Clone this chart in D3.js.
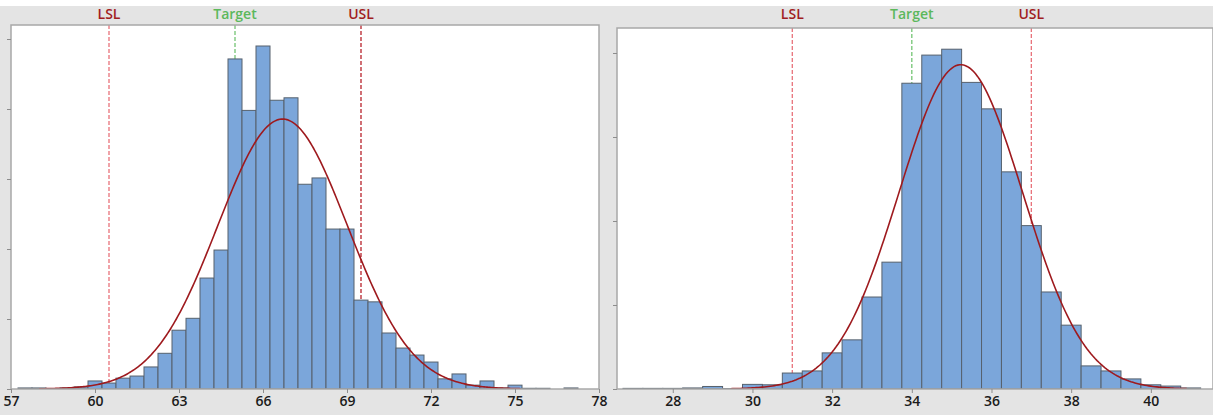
<!DOCTYPE html>
<html>
<head>
<meta charset="utf-8">
<script src="https://cdn.jsdelivr.net/npm/d3@7"></script>
<style>
  body { margin: 0; background: #fff; }
  svg { display: block; font-family: "Open Sans", "DejaVu Sans", sans-serif; }
</style>
</head>
<body>
<div id="chart"></div>
<script>
// left histogram: bin centres (width 0.5) and counts
var leftBins = [57.5, 58, 58.5, 59, 59.5, 60, 60.5, 61, 61.5, 62, 62.5, 63, 63.5, 64, 64.5,
                65, 65.5, 66, 66.5, 67, 67.5, 68, 68.5, 69, 69.5, 70, 70.5, 71, 71.5, 72,
                72.5, 73, 73.5, 74, 74.5, 75, 75.5, 76, 76.5, 77];
var leftCounts = [0.3, 0.3, 0, 0.3, 0.6, 2.3, 1.7, 3.1, 3.7, 6.3, 10.2, 16.8, 20.2, 31.7, 39.7,
                  94.3, 79.6, 98, 82.5, 83.2, 58.5, 60.3, 45.7, 45.7, 25.4, 24.9, 16, 11.7, 9.7, 7.7,
                  2.9, 4.3, 1.1, 2.3, 0.3, 1.1, 0.2, 0.2, 0, 0.3];
var leftTicks = [57, 60, 63, 66, 69, 72, 75, 78];
var leftYTicks = [0, 20, 40, 60, 80, 100];
var leftSpecNames = ["LSL", "Target", "USL"];
var leftSpecValues = [60.5, 65, 69.5];
var leftMean = 66.7, leftSd = 2.31;

// right histogram
var rightBins = [27, 27.5, 28, 28.5, 29, 29.5, 30, 30.5, 31, 31.5, 32, 32.5, 33, 33.5, 34,
                 34.5, 35, 35.5, 36, 36.5, 37, 37.5, 38, 38.5, 39, 39.5, 40, 40.5, 41];
var rightCounts = [0.15, 0.15, 0.15, 0.25, 0.6, 0.1, 1.1, 1.0, 3.8, 4.3, 8.6, 11.7, 21.9, 30.2, 72.8,
                   79.5, 80.9, 73.0, 66.7, 51.7, 38.9, 23.1, 15.2, 5.5, 4.3, 2.4, 1.0, 0.7, 0.25];
var rightTicks = [28, 30, 32, 34, 36, 38, 40];
var rightYTicks = [0, 20, 40, 60, 80];
var rightSpecNames = ["LSL", "Target", "USL"];
var rightSpecValues = [31, 34, 37];
var rightMean = 35.23, rightSd = 1.55;

var binWidth = 0.5,
    W = 1213, H = 415,
    bottom = 389;

var svg = d3.select("#chart").append("svg")
    .attr("width", W)
    .attr("height", H);

svg.append("rect").attr("width", W).attr("height", H).attr("fill", "#e4e4e4");
svg.append("rect").attr("width", W).attr("height", 6).attr("fill", "#fff");

function drawPanel(p) {
    var x = d3.scaleLinear().domain(p.xDomain).range([p.left, p.right]);
    var y = d3.scaleLinear().domain(p.yDomain).range([bottom, p.top]);
    var g = svg.append("g");

    g.append("clipPath").attr("id", p.id + "-clip")
      .append("rect")
        .attr("x", p.left).attr("y", p.top)
        .attr("width", p.right - p.left).attr("height", bottom - p.top);

    g.append("rect")
        .attr("x", p.left).attr("y", p.top)
        .attr("width", p.right - p.left).attr("height", bottom - p.top)
        .attr("fill", "#fff");

    var plot = g.append("g").attr("clip-path", "url(#" + p.id + "-clip)");

    // spec limit lines sit behind the bars
    plot.selectAll("line.spec")
        .data(p.specValues)
      .enter().append("line")
        .attr("class", "spec")
        .attr("x1", function(d) {return x(d)})
        .attr("x2", function(d) {return x(d)})
        .attr("y1", p.top)
        .attr("y2", bottom)
        .attr("stroke", function(d, i) {return p.specColors[i]})
        .attr("stroke-width", 1.3)
        .attr("stroke-dasharray", "4,2");

    var bars = p.bins.map(function(b, i) {return {c: b, n: p.counts[i]}})
        .filter(function(d) {return d.n > 0});

    plot.selectAll("rect.bar")
        .data(bars)
      .enter().append("rect")
        .attr("class", "bar")
        .attr("x", function(d) {return x(d.c - binWidth / 2)})
        .attr("width", function(d) {return x(d.c + binWidth / 2) - x(d.c - binWidth / 2)})
        .attr("y", function(d) {return y(d.n)})
        .attr("height", function(d) {return bottom - y(d.n)})
        .attr("fill", "#7ba6da")
        .attr("stroke", "#56616d")
        .attr("stroke-width", 1);

    // fitted normal curve, scaled to counts
    var total = d3.sum(p.counts),
        k = total * binWidth / (p.sd * Math.sqrt(2 * Math.PI));
    var pts = d3.range(p.curveRange[0], p.curveRange[1] + 0.001, 0.05).map(function(v) {
        var z = (v - p.mean) / p.sd;
        return [v, k * Math.exp(-0.5 * z * z)];
    });
    plot.append("path")
        .datum(pts)
        .attr("fill", "none")
        .attr("stroke", "#9e1a1e")
        .attr("stroke-width", 1.6)
        .attr("d", d3.line()
            .x(function(d) {return x(d[0])})
            .y(function(d) {return y(d[1])}));

    g.append("rect")
        .attr("x", p.left).attr("y", p.top)
        .attr("width", p.right - p.left).attr("height", bottom - p.top)
        .attr("fill", "none")
        .attr("stroke", "#a8a8a8")
        .attr("stroke-width", 1.5);

    var xAxis = g.append("g")
        .attr("transform", "translate(0," + bottom + ")")
        .call(d3.axisBottom(x).tickValues(p.xTicks).tickSize(4).tickPadding(3));
    xAxis.select(".domain").remove();
    xAxis.selectAll("line").attr("stroke", "#8c8c8c");
    xAxis.selectAll("text")
        .attr("font-size", 14)
        .attr("font-weight", 600)
        .attr("fill", "#1b1b1b")
        .style("font-family", "'Open Sans', sans-serif");

    var yAxis = g.append("g")
        .attr("transform", "translate(" + p.left + ",0)")
        .call(d3.axisLeft(y).tickValues(p.yTicks).tickSize(4).tickFormat(""));
    yAxis.select(".domain").remove();
    yAxis.selectAll("line").attr("stroke", "#8c8c8c");

    g.selectAll("text.spec")
        .data(p.specNames)
      .enter().append("text")
        .attr("class", "spec")
        .attr("x", function(d, i) {return x(p.specValues[i])})
        .attr("y", 19)
        .attr("text-anchor", "middle")
        .attr("font-size", 14)
        .attr("font-weight", 600)
        .attr("fill", function(d, i) {return p.labelColors[i]})
        .text(function(d) {return d});
}

drawPanel({
    id: "left",
    left: 11, right: 599, top: 25,
    xDomain: [57, 78], yDomain: [0, 104],
    bins: leftBins, counts: leftCounts,
    xTicks: leftTicks, yTicks: leftYTicks,
    specNames: leftSpecNames, specValues: leftSpecValues,
    specColors: ["#e8727a", "#74c474", "#b8232b"],
    labelColors: ["#a11d22", "#5cb85c", "#a11d22"],
    mean: leftMean, sd: leftSd, curveRange: [58, 75.2]
});

drawPanel({
    id: "right",
    left: 617, right: 1213, top: 28,
    xDomain: [26.6, 41.56], yDomain: [0, 85.95],
    bins: rightBins, counts: rightCounts,
    xTicks: rightTicks, yTicks: rightYTicks,
    specNames: rightSpecNames, specValues: rightSpecValues,
    specColors: ["#e8727a", "#74c474", "#e8727a"],
    labelColors: ["#a11d22", "#5cb85c", "#a11d22"],
    mean: rightMean, sd: rightSd, curveRange: [29.45, 40.9]
});
</script>
</body>
</html>
